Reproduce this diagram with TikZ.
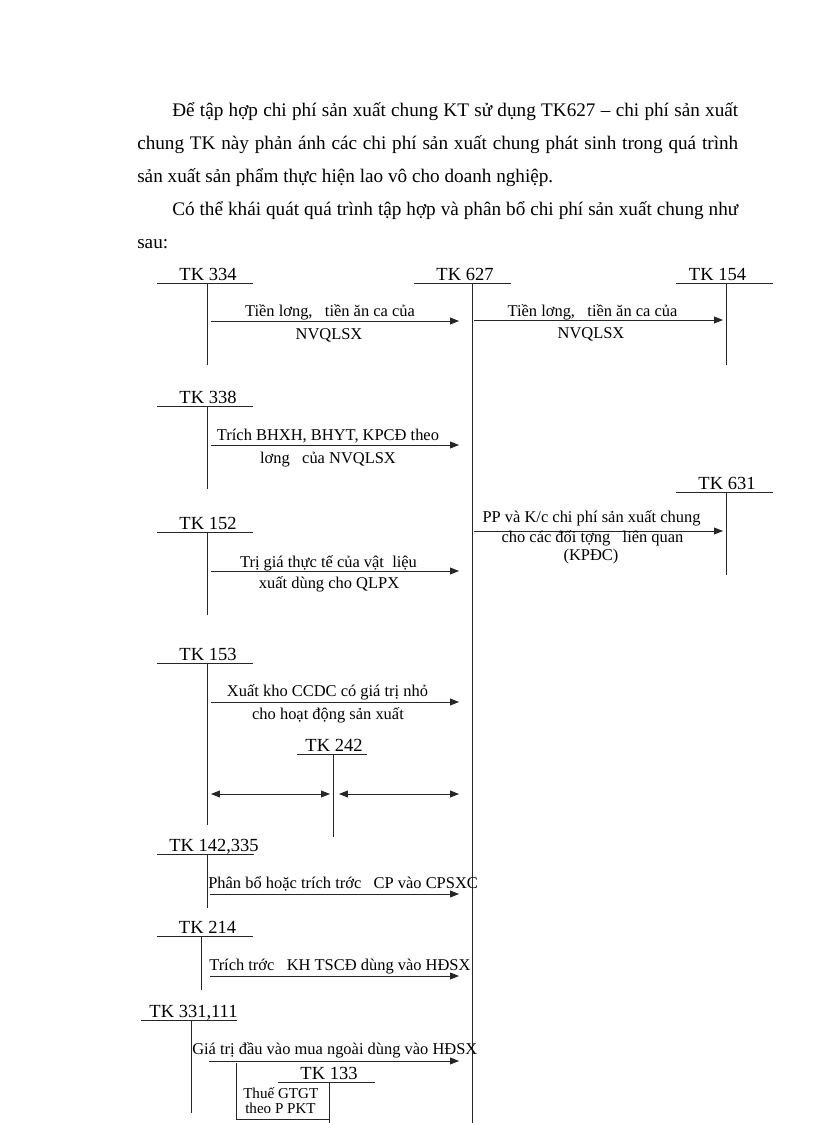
\documentclass[tikz,border=0pt]{standalone}
\usepackage{fontspec}
\setmainfont{Liberation Serif}
\usetikzlibrary{arrows.meta}
\begin{document}
\begin{tikzpicture}[x=0.7295pt,y=-0.7295pt,
  tkline/.style={draw=black!85,line width=0.7pt},
  flow/.style={draw=black!85,line width=0.6pt,-{Triangle[length=6.5pt,width=5pt]}},
  flowtwo/.style={draw=black!85,line width=0.6pt,{Triangle[length=6.5pt,width=5pt]}-{Triangle[length=6.5pt,width=5pt]}},
  tklabel/.style={anchor=base,inner sep=0pt,font=\fontsize{13.5}{15}\selectfont},
  lbl/.style={anchor=base,inner sep=0pt,font=\fontsize{12}{14}\selectfont},
  lblw/.style={anchor=base west,inner sep=0pt,font=\fontsize{12}{14}\selectfont},
  lbls/.style={anchor=base west,inner sep=0pt,font=\fontsize{11}{12}\selectfont},
  para/.style={anchor=base west,inner sep=0pt,font=\fontsize{14}{16}\selectfont}]
\useasboundingbox (0,0) rectangle (816,1123);
\fill[white] (0,0) rectangle (816,1123);

% paragraph
\node[para] (p1) at (172,116) {\hbox to 412.9pt{Để tập hợp chi phí sản xuất chung KT sử dụng TK627 – chi phí sản xuất}};
\node[para] (p2) at (137,149) {\hbox to 438.4pt{chung TK này phản ánh các chi phí sản xuất chung phát sinh trong quá trình}};
\node[para] (p3) at (137,182) {sản xuất sản phẩm thực hiện lao vô cho doanh nghiệp.};
\node[para] (p4) at (172,215) {\hbox to 412.9pt{Có thể khái quát quá trình tập hợp và phân bổ chi phí sản xuất chung như}};
\node[para] (p5) at (137,248) {sau:};

% T accounts
% TK 334
\draw[tkline] (157,283) -- (253,283);
\draw[tkline] (207,283) -- (207,365);
\node[tklabel] (t334) at (208,280.5) {TK 334};
% TK 627
\draw[tkline] (414,283) -- (511,283);
\draw[tkline] (472,283) -- (472,1123);
\node[tklabel] (t627) at (465,280.5) {TK 627};
% TK 154
\draw[tkline] (676,283) -- (773,283);
\draw[tkline] (726,283) -- (726,365);
\node[tklabel] (t154) at (717.5,280.5) {TK 154};
% TK 338
\draw[tkline] (157,406) -- (253,406);
\draw[tkline] (207,406) -- (207,489);
\node[tklabel] (t338) at (208,403.5) {TK 338};
% TK 631
\draw[tkline] (676,492) -- (773,492);
\draw[tkline] (726,492) -- (726,575);
\node[tklabel] (t631) at (727,489.5) {TK 631};
% TK 152
\draw[tkline] (157,532) -- (253,532);
\draw[tkline] (207,532) -- (207,615);
\node[tklabel] (t152) at (208,529.5) {TK 152};
% TK 153
\draw[tkline] (157,663) -- (253,663);
\draw[tkline] (207,663) -- (207,825);
\node[tklabel] (t153) at (208,660.5) {TK 153};
% TK 242
\draw[tkline] (297,754) -- (367,754);
\draw[tkline] (333,754) -- (333,837);
\node[tklabel] (t242) at (334,751.5) {TK 242};
% TK 142,335
\draw[tkline] (157,854) -- (254,854);
\draw[tkline] (207,854) -- (207,908);
\node[tklabel] (t142) at (214,851.5) {TK 142,335};
% TK 214
\draw[tkline] (157,936) -- (253,936);
\draw[tkline] (201,936) -- (201,990);
\node[tklabel] (t214) at (207.5,933.5) {TK 214};
% TK 331,111
\draw[tkline] (141,1020) -- (237,1020);
\draw[tkline] (191,1020) -- (191,1113);
\node[tklabel] (t331) at (193.5,1017.5) {TK 331,111};
% TK 133
\draw[tkline] (278,1082) -- (375,1082);
\draw[tkline] (329,1082) -- (329,1123);
\node[tklabel] (t133) at (329,1079.5) {TK 133};
\coordinate (bxa) at (236,1063);
\coordinate (bxb) at (236,1119);
\coordinate (bxc) at (329,1119);
\draw[tkline] (bxa) -- (bxb) -- (bxc);
\node[lbls] (vat1) at (243,1098) {Thuế GTGT};
\node[lbls] (vat2) at (245,1113) {theo P PKT};

% arrows
\coordinate (a1s) at (211,321); \coordinate (a1e) at (459,321);
\draw[flow] (a1s) -- (a1e);
\node[lbl] (l1a) at (330,316) {Tiền lơng,\hspace{0.75em}tiền ăn ca của};
\node[lbl] (l1b) at (329,339) {NVQLSX};

\coordinate (a2s) at (474,320); \coordinate (a2e) at (723,320);
\draw[flow] (a2s) -- (a2e);
\node[lbl] (l2a) at (592.5,316) {Tiền lơng,\hspace{0.75em}tiền ăn ca của};
\node[lbl] (l2b) at (591,338) {NVQLSX};

\coordinate (a3s) at (211,445); \coordinate (a3e) at (459,445);
\draw[flow] (a3s) -- (a3e);
\node[lbl] (l3a) at (328,440) {Trích BHXH, BHYT, KPCĐ theo};
\node[lbl] (l3b) at (328,463) {lơng\hspace{0.75em}của NVQLSX};

\coordinate (a4s) at (474,531); \coordinate (a4e) at (723,531);
\draw[flow] (a4s) -- (a4e);
\node[lbl] (l4a) at (591.5,522) {PP và K/c chi phí sản xuất chung};
\node[lbl] (l4b) at (592.5,542) {cho các đối tợng\hspace{0.75em}liên quan};
\node[lbl] (l4c) at (591,560) {(KPĐC)};

\coordinate (a5s) at (211,571); \coordinate (a5e) at (459,571);
\draw[flow] (a5s) -- (a5e);
\node[lbl] (l5a) at (328.5,567) {Trị giá thực tế của vật\hspace{0.5em}liệu};
\node[lbl] (l5b) at (329,588) {xuất dùng cho QLPX};

\coordinate (a6s) at (211,702); \coordinate (a6e) at (459,702);
\draw[flow] (a6s) -- (a6e);
\node[lbl] (l6a) at (327.5,696) {Xuất kho CCDC có giá trị nhỏ};
\node[lbl] (l6b) at (328,719) {cho hoạt động sản xuất};

\coordinate (a7s) at (211,794); \coordinate (a7e) at (330,794);
\draw[flowtwo] (a7s) -- (a7e);
\coordinate (a8s) at (339,794); \coordinate (a8e) at (459,794);
\draw[flowtwo] (a8s) -- (a8e);

\coordinate (a9s) at (210,894); \coordinate (a9e) at (459,894);
\draw[flow] (a9s) -- (a9e);
\node[lblw] (l9) at (208,888) {Phân bổ hoặc trích trớc\hspace{0.75em}CP vào CPSXC};

\coordinate (a10s) at (210,976); \coordinate (a10e) at (459,976);
\draw[flow] (a10s) -- (a10e);
\node[lblw] (l10) at (209,970) {Trích trớc\hspace{0.75em}KH TSCĐ dùng vào HĐSX};

\coordinate (a11s) at (209,1061); \coordinate (a11e) at (459,1061);
\draw[flow] (a11s) -- (a11e);
\node[lblw] (l11) at (192,1054) {Giá trị đầu vào mua ngoài dùng vào HĐSX};
\end{tikzpicture}
\end{document}
